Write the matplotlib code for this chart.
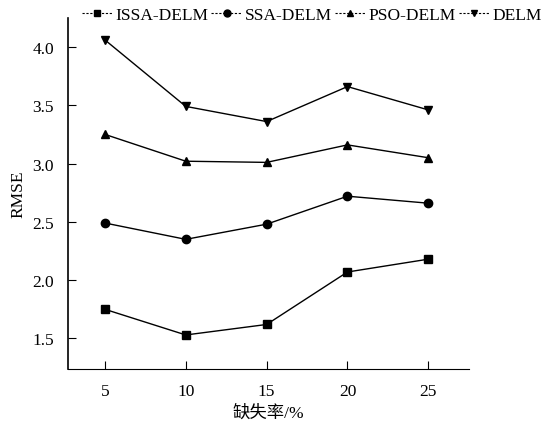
import matplotlib.pyplot as plt
from matplotlib.lines import Line2D

plt.rcParams['font.family'] = ['Liberation Serif', 'Noto Sans CJK SC']

missing_rate = [5, 10, 15, 20, 25]
issa_delm = [1.75, 1.53, 1.62, 2.07, 2.18]
ssa_delm = [2.49, 2.35, 2.48, 2.72, 2.66]
pso_delm = [3.25, 3.02, 3.01, 3.16, 3.05]
delm = [4.06, 3.49, 3.36, 3.66, 3.46]

series = [
    ('ISSA-DELM', issa_delm, 's'),
    ('SSA-DELM', ssa_delm, 'o'),
    ('PSO-DELM', pso_delm, '^'),
    ('DELM', delm, 'v'),
]

fig = plt.figure(figsize=(5.6, 4.27), dpi=100)
ax = fig.add_axes([0.121, 0.134, 0.716, 0.822])

for name, vals, m in series:
    ax.plot(missing_rate, vals, color='black', lw=1.0, marker=m, markersize=6)

# legend drawn with dashed handles like the original
handles = [Line2D([], [], color='black', lw=0.8, ls=(0, (2, 1.5)), marker=m, markersize=5)
           for _, _, m in series]
fig.legend(handles, [s[0] for s in series], loc='upper left', bbox_to_anchor=(0.14, 0.99),
           ncol=4, frameon=False, fontsize=12.5, handlelength=1.75, handletextpad=0.2,
           columnspacing=0.15, borderaxespad=0.0, borderpad=0.2)

ax.set_xlim(2.7, 27.5)
ax.set_ylim(1.24, 4.25)
ax.set_xticks(missing_rate)
ax.set_yticks([1.5, 2.0, 2.5, 3.0, 3.5, 4.0])
ax.set_yticklabels(['1.5', '2.0', '2.5', '3.0', '3.5', '4.0'])
ax.tick_params(direction='in', labelsize=12.5, length=6, width=0.8, pad=10)
ax.spines['top'].set_visible(False)
ax.spines['right'].set_visible(False)
ax.spines['bottom'].set_linestyle((0, (2, 1)))
ax.spines['left'].set_linewidth(1.2)
ax.set_xlabel('缺失率/%', fontsize=12.5)
ax.set_ylabel('RMSE', fontsize=12.5)

fig.savefig('out.png', dpi=100)
